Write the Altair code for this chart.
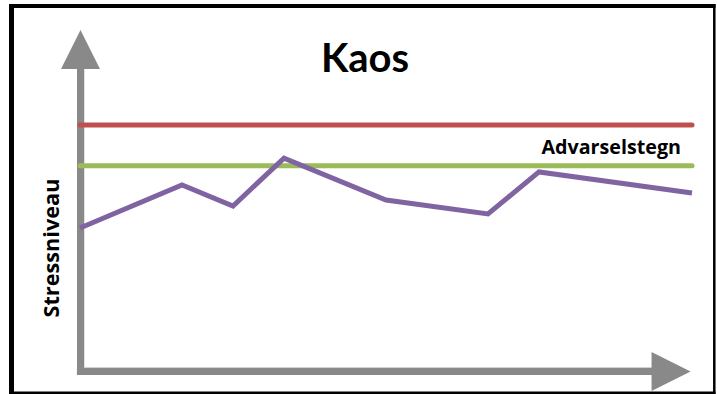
import altair as alt
import pandas as pd

# ---- data ----
time = [0, 2, 3, 4, 6, 8, 9, 12]
stress = [58.3, 75.7, 67.2, 86.6, 69.6, 64.0, 81.0, 72.5]
red_level = 100.0
green_level = 83.5
line_start, line_end = 0, 12
title_text = "Kaos"
warn_text = "Advarselstegn"
ylabel_text = "Stressniveau"

W, H = 717, 394
xs = alt.Scale(domain=[-80 / 51, 637 / 51], nice=False, zero=False)
ys = alt.Scale(domain=[(372 - 394) / 2.47, 372 / 2.47], nice=False, zero=False)

GRAY = "#898989"
FONT = "Lato"
FONT2 = "Open Sans"

def X(f, **k):
    return alt.X(f, scale=xs, axis=None, **k)

def Y(f, **k):
    return alt.Y(f, scale=ys, axis=None, **k)

# axes (arrows)
axv = pd.DataFrame({"x": [0.01], "y1": [0.0], "y2": [122.7]})
axh = pd.DataFrame({"x1": [-0.06], "x2": [11.22], "y": [0.2]})
vaxis = alt.Chart(axv).mark_rule(color=GRAY, strokeWidth=7, strokeCap="butt").encode(
    x=X("x:Q"), y=Y("y1:Q"), y2="y2:Q")
haxis = alt.Chart(axh).mark_rule(color=GRAY, strokeWidth=7, strokeCap="butt").encode(
    x=X("x1:Q"), x2="x2:Q", y=Y("y:Q"))
vshadow = alt.Chart(pd.DataFrame({"x": [0.08], "y1": [1.8], "y2": [122.7]})).mark_rule(
    color="#cfcfcf", strokeWidth=1).encode(x=X("x:Q"), y=Y("y1:Q"), y2="y2:Q")
hshadow = alt.Chart(pd.DataFrame({"x1": [0.08], "x2": [11.22], "y": [1.8]})).mark_rule(
    color="#cfcfcf", strokeWidth=1).encode(x=X("x1:Q"), x2="x2:Q", y=Y("y:Q"))
varrow = alt.Chart(pd.DataFrame({"x": [0.01], "y": [130.57]})).mark_point(
    shape="M0,-1L1,1L-1,1Z", size=1521, filled=True, color=GRAY, opacity=1, strokeWidth=0
).encode(x=X("x:Q"), y=Y("y:Q"))
harrow = alt.Chart(pd.DataFrame({"x": [11.59], "y": [0.2]})).mark_point(
    shape="M1,0L-1,1L-1,-1Z", size=1521, filled=True, color=GRAY, opacity=1, strokeWidth=0
).encode(x=X("x:Q"), y=Y("y:Q"))

# thresholds
thr = pd.DataFrame({"x1": [line_start, line_start], "x2": [line_end, line_end],
                    "y": [red_level, green_level], "c": ["#C0504D", "#9BBB59"]})
rules = alt.Chart(thr).mark_rule(strokeWidth=5, strokeCap="round").encode(
    x=X("x1:Q"), x2="x2:Q", y=Y("y:Q"), color=alt.Color("c:N", scale=None))

# stress line
df = pd.DataFrame({"t": time, "s": stress})
line = alt.Chart(df).mark_line(color="#8064A2", strokeWidth=5, strokeJoin="miter",
                               strokeCap="butt").encode(x=X("t:Q"), y=Y("s:Q"))

# texts
title = alt.Chart(pd.DataFrame({"t": [title_text]})).mark_text(
    font=FONT, fontWeight="bold", fontSize=40, color="black", align="center",
    baseline="alphabetic").encode(x=alt.value(365), y=alt.value(72), text="t:N")
warn = alt.Chart(pd.DataFrame({"t": [warn_text]})).mark_text(
    font=FONT2, fontWeight="bold", fontSize=19.7, color="black", align="right",
    baseline="alphabetic").encode(x=alt.value(681), y=alt.value(153.5), text="t:N")
ylab = alt.Chart(pd.DataFrame({"t": [ylabel_text]})).mark_text(
    font=FONT2, fontWeight="bold", fontSize=21.7, color="black", align="center",
    baseline="alphabetic", angle=270).encode(x=alt.value(58.5), y=alt.value(248), text="t:N")

# border
bd = pd.DataFrame({"a": [0]})
b_left = alt.Chart(bd).mark_rule(color="black", strokeWidth=5).encode(
    x=alt.value(11.5), y=alt.value(4), y2=alt.value(394))
b_top = alt.Chart(bd).mark_rule(color="black", strokeWidth=4).encode(
    x=alt.value(9), x2=alt.value(715.5), y=alt.value(6))
b_right = alt.Chart(bd).mark_rule(color="black", strokeWidth=2.5).encode(
    x=alt.value(714.3), y=alt.value(4), y2=alt.value(394))
b_bottom = alt.Chart(bd).mark_rule(color="black", strokeWidth=3).encode(
    x=alt.value(9), x2=alt.value(715.5), y=alt.value(393))

chart = alt.layer(
    vshadow, hshadow, vaxis, haxis, varrow, harrow, rules, line, title, warn, ylab,
    b_left, b_top, b_right, b_bottom
).properties(
    width=W, height=H, padding=0, autosize=alt.AutoSizeParams(type="none"),
    background="white"
).configure_view(stroke=None)

chart.save("out.html", embed_options={"renderer": "svg", "actions": False})
